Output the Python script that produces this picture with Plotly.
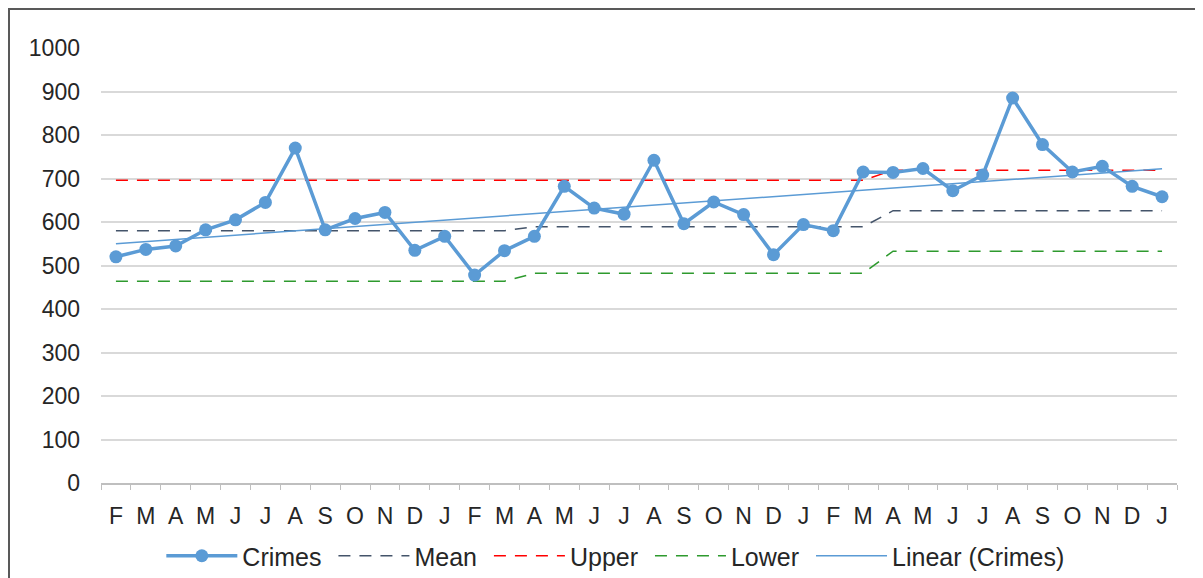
import numpy as np
import plotly.graph_objects as go

months = ["F", "M", "A", "M", "J", "J", "A", "S", "O", "N", "D", "J",
          "F", "M", "A", "M", "J", "J", "A", "S", "O", "N", "D", "J",
          "F", "M", "A", "M", "J", "J", "A", "S", "O", "N", "D", "J"]

crimes = [520, 537, 545, 582, 605, 645, 770, 582, 608, 622, 535, 567,
          478, 534, 567, 682, 632, 618, 742, 596, 646, 617, 525, 594,
          580, 715, 714, 723, 672, 708, 885, 778, 715, 728, 682, 658]

mean = [580] * 14 + [589] * 12 + [626] * 10
upper = [696] * 14 + [696] * 12 + [719] * 10
lower = [464] * 14 + [482] * 12 + [533] * 10

y_ticks = [0, 100, 200, 300, 400, 500, 600, 700, 800, 900, 1000]

x = list(range(len(months)))
coef = np.polyfit(x, crimes, 1)
trend = np.polyval(coef, x)

FONT = "Liberation Sans, Arial, sans-serif"
FS = 23
PAD = "\u00a0"  # extra spacing between legend entries

fig = go.Figure()
fig.add_trace(go.Scatter(x=x, y=mean, name="Mean" + PAD, mode="lines",
                         line=dict(color="#44546a", width=1.5, dash="12px,9px"),
                         legendrank=2))
fig.add_trace(go.Scatter(x=x, y=upper, name="Upper" + PAD, mode="lines",
                         line=dict(color="#ff0000", width=1.5, dash="12px,9px"),
                         legendrank=3))
fig.add_trace(go.Scatter(x=x, y=lower, name="Lower" + PAD, mode="lines",
                         line=dict(color="#2e9a2e", width=1.5, dash="12px,9px"),
                         legendrank=4))
fig.add_trace(go.Scatter(x=x, y=trend, name="Linear (Crimes)", mode="lines",
                         line=dict(color="#5b9bd5", width=1.5),
                         legendrank=5))
fig.add_trace(go.Scatter(x=x, y=crimes, name="Crimes" + PAD, mode="lines+markers",
                         line=dict(color="#5b9bd5", width=3.5),
                         marker=dict(color="#5b9bd5", size=13),
                         legendrank=1))

W, H = 1195, 570
L, R, T, B = 93, 26, 40, 95
pw, ph = W - L - R, H - T - B

fig.update_layout(
    width=W, height=H,
    margin=dict(l=L, r=R, t=T, b=B, autoexpand=False),
    paper_bgcolor="white", plot_bgcolor="white",
    font=dict(family=FONT, size=FS, color="#262626"),
    showlegend=True,
    legend=dict(orientation="h", x=0.478, xanchor="center",
                yref="container", y=1 - 548 / H, yanchor="middle",
                font=dict(size=25, color="#262626"), itemwidth=71,
                traceorder="normal"),
    xaxis=dict(range=[-0.5, 35.5], tickmode="array", tickvals=x, ticktext=months,
               automargin=False,
               showgrid=False, zeroline=False, showline=True, linecolor="#bfbfbf",
               linewidth=1.5, ticks="", ticklabelstandoff=12,
               tickfont=dict(size=FS, color="#262626"),
               minor=dict(tickmode="linear", tick0=-0.5, dtick=1, ticks="outside",
                          ticklen=5, tickcolor="#bfbfbf", showgrid=False)),
    yaxis=dict(range=[0, 1000], tickmode="array", tickvals=y_ticks,
               automargin=False,
               showgrid=True, gridcolor="#d9d9d9", gridwidth=1.5,
               zeroline=False, showline=False, ticks="", ticklabelstandoff=20,
               tickfont=dict(size=FS, color="#262626")),
    shapes=[dict(type="rect", xref="paper", yref="paper",
                 x0=-(L - 1) / pw, x1=1.05, y0=-0.3, y1=1 + (T - 1) / ph,
                 line=dict(color="#595959", width=2), fillcolor="rgba(0,0,0,0)",
                 layer="below")],
)

fig.write_html("out.html")
